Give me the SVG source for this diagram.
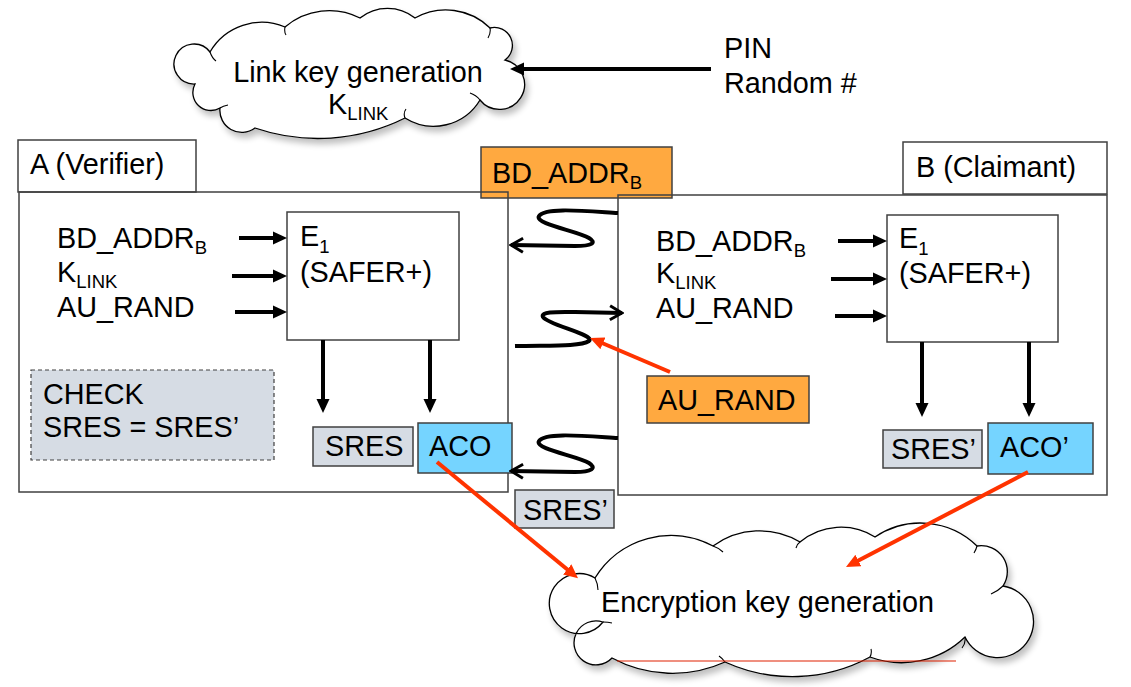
<svg xmlns="http://www.w3.org/2000/svg" width="1131" height="687" viewBox="0 0 1131 687">
<style>
text{font-family:"Liberation Sans",Arial,sans-serif;font-size:28.8px;fill:#000}
.sub{font-size:18.5px}
.box{fill:none;stroke:#404040;stroke-width:1.5}
.wbox{fill:#fff;stroke:#404040;stroke-width:1.5}
.org{fill:#FFA940;stroke:#404040;stroke-width:1.5}
.blu{fill:#75D4FF;stroke:#404040;stroke-width:1.5}
.gry{fill:#D6DCE4;stroke:#404040;stroke-width:1.5}
.cloud{fill:#fff;stroke:#000;stroke-width:1.3}
.hook{fill:none;stroke:#000;stroke-width:1.1}
.blk{fill:none;stroke:#000;stroke-width:4;marker-end:url(#ah)}
.sc{fill:none;stroke:#000;stroke-width:4;marker-end:url(#ch)}
.red{fill:none;stroke:#FF3300;stroke-width:4;marker-end:url(#rh)}
</style>
<defs>
<marker id="ah" markerUnits="userSpaceOnUse" markerWidth="15" markerHeight="14" viewBox="0 0 15 14" refX="1" refY="7" orient="auto"><path d="M0,0.5 L14,7 L0,13.5 z" fill="#000"/></marker>
<marker id="rh" markerUnits="userSpaceOnUse" markerWidth="15" markerHeight="14" viewBox="0 0 15 14" refX="1" refY="7" orient="auto"><path d="M0,0.5 L14,7 L0,13.5 z" fill="#FF3300"/></marker>
<marker id="ch" markerUnits="userSpaceOnUse" markerWidth="16" markerHeight="18" viewBox="-14 -9 16 18" refX="0" refY="0" orient="auto"><path d="M-12,-7 L0,0 L-12,7" fill="none" stroke="#000" stroke-width="3"/></marker>
<filter id="sh" x="-10%" y="-10%" width="125%" height="135%"><feGaussianBlur in="SourceAlpha" stdDeviation="3"/><feOffset dx="3" dy="5"/><feComponentTransfer><feFuncA type="linear" slope="0.25"/></feComponentTransfer><feMerge><feMergeNode/><feMergeNode in="SourceGraphic"/></feMerge></filter>
</defs>
<rect width="1131" height="687" fill="#fff"/>

<g id="cloud-link">
<path class="cloud" filter="url(#sh)" d="M195,84 A20,20 0 1 1 210,52 A60,60 0 0 1 285,27 A68,68 0 0 1 360,18 A44,44 0 0 1 415,18 A63,63 0 0 1 490,28 A18,18 0 0 1 505,60 A25,25 0 1 1 480,100 A54,54 0 0 1 405,118 A195,195 0 0 1 255,128 A22,22 0 0 1 220,108 A18,18 0 0 1 195,84 Z"/>
<path class="hook" d="M210,52 q2,6 6,9 M285,27 q-1,5 1,8 M490,28 q1,5 -2,10 M480,100 q-4,-5 -10,-7 M405,118 q-2,-5 1,-9 M220,108 q3,-2 8,-3"/>
<text x="358" y="82" text-anchor="middle">Link key generation</text>
<text x="328" y="114">K<tspan class="sub" dy="6">LINK</tspan></text>
</g>

<g id="pin">
<text x="724" y="58">PIN</text>
<text x="724" y="93">Random #</text>
</g>

<g id="cloud-enc">
<path class="cloud" filter="url(#sh)" d="M603,622 A30,30 0 1 1 595,578 A89,89 0 0 1 713,546 A79,79 0 0 1 800,542 A64,64 0 0 1 875,537 A81,81 0 0 1 977,546 A26,26 0 0 1 1003,586 A36,36 0 1 1 965,637 A91,91 0 0 1 870,657 A163,163 0 0 1 725,662 A127,127 0 0 1 612,658 A22,22 0 1 1 603,622 Z"/>
<path class="hook" d="M595,578 q3,6 3,12 M713,546 q6,2 10,6 M800,542 q-3,2 -4,6 M977,546 q-1,4 -3,7 M1003,586 q-5,5 -12,8 M965,637 q1,6 -3,11 M870,657 q2,-4 1,-8 M725,662 q-3,-4 -6,-6 M603,622 q5,0 9,1"/>
<text x="601" y="612">Encryption key generation</text>
<line x1="617" y1="661" x2="956" y2="661" stroke="#E02000" stroke-width="1.2"/>
</g>

<g id="bdaddr-msg">
<rect class="org" x="481" y="147" width="191" height="51"/>
<text x="492" y="183">BD_ADDR<tspan class="sub" dy="6">B</tspan></text>
</g>

<g id="verifier">
<rect class="box" x="18" y="140" width="178" height="52"/>
<text x="30" y="174">A (Verifier)</text>
<rect class="box" x="19" y="192" width="489" height="300" stroke-width="2"/>
<text x="57" y="248">BD_ADDR<tspan class="sub" dy="6">B</tspan></text>
<text x="57" y="282">K<tspan class="sub" dy="6">LINK</tspan></text>
<text x="57" y="317">AU_RAND</text>
</g>

<g id="e1-a">
<rect class="wbox" x="287" y="212" width="172" height="128"/>
<text x="300" y="246">E<tspan class="sub" dy="7">1</tspan></text>
<text x="300" y="282">(SAFER+)</text>
</g>

<g id="check">
<rect x="31" y="370" width="243" height="90" fill="#D6DCE4" stroke="#404040" stroke-width="1.2" stroke-dasharray="4,3"/>
<text x="43" y="404">CHECK</text>
<text x="43" y="437">SRES = SRES’</text>
</g>

<g id="sres-a">
<rect class="gry" x="313" y="427" width="100" height="39"/>
<text x="325" y="456">SRES</text>
</g>

<g id="aco-a">
<rect class="blu" x="418" y="423" width="94" height="50"/>
<text x="429" y="456">ACO</text>
</g>

<g id="claimant">
<rect class="box" x="903" y="142" width="204" height="52"/>
<text x="916" y="177">B (Claimant)</text>
<rect class="box" x="618" y="195" width="489" height="300" stroke-width="2"/>
<text x="656" y="251">BD_ADDR<tspan class="sub" dy="6">B</tspan></text>
<text x="656" y="283">K<tspan class="sub" dy="6">LINK</tspan></text>
<text x="656" y="318">AU_RAND</text>
</g>

<g id="e1-b">
<rect class="wbox" x="887" y="215" width="171" height="127"/>
<text x="899" y="248">E<tspan class="sub" dy="7">1</tspan></text>
<text x="899" y="283">(SAFER+)</text>
</g>

<g id="aurand-msg">
<rect class="org" x="647" y="376" width="162" height="47"/>
<text x="658" y="410">AU_RAND</text>
</g>

<g id="sres-b">
<rect class="gry" x="883" y="430" width="99" height="38"/>
<text x="891" y="459">SRES’</text>
</g>

<g id="aco-b">
<rect class="blu" x="988" y="423" width="105" height="51"/>
<text x="1000" y="457">ACO’</text>
</g>

<g id="sres-msg">
<rect class="gry" x="515" y="490" width="99" height="38"/>
<text x="523" y="520">SRES’</text>
</g>

<g id="connectors">
<line class="blk" x1="711" y1="69" x2="523" y2="69"/>
<line class="blk" x1="239" y1="238" x2="274" y2="238"/>
<line class="blk" x1="232" y1="276" x2="274" y2="276"/>
<line class="blk" x1="235" y1="312" x2="274" y2="312"/>
<line class="blk" x1="323" y1="340" x2="323" y2="400"/>
<line class="blk" x1="430" y1="340" x2="430" y2="400"/>
<line class="blk" x1="838" y1="241" x2="874" y2="241"/>
<line class="blk" x1="831" y1="279" x2="874" y2="279"/>
<line class="blk" x1="835" y1="316" x2="874" y2="316"/>
<line class="blk" x1="922" y1="342" x2="922" y2="404"/>
<line class="blk" x1="1029" y1="342" x2="1029" y2="404"/>
<path class="sc" d="M618,213 C585,211 545,207 539,216 C534,224 578,231 589,238 C597,243 592,246 575,246 L511,245"/>
<path class="sc" d="M515,346 C545,345 580,347 589,341 C596,335 548,325 543,317 C540,311 560,312 575,312 L622,313"/>
<path class="sc" d="M618,438 C585,436 545,432 539,441 C534,449 578,456 589,463 C597,468 592,472 575,472 L511,471"/>
<line class="red" x1="670" y1="372" x2="602" y2="343"/>
<line class="red" x1="437" y1="462" x2="568" y2="570"/>
<line class="red" x1="1028" y1="472" x2="857.5" y2="561"/>
</g>
</svg>
